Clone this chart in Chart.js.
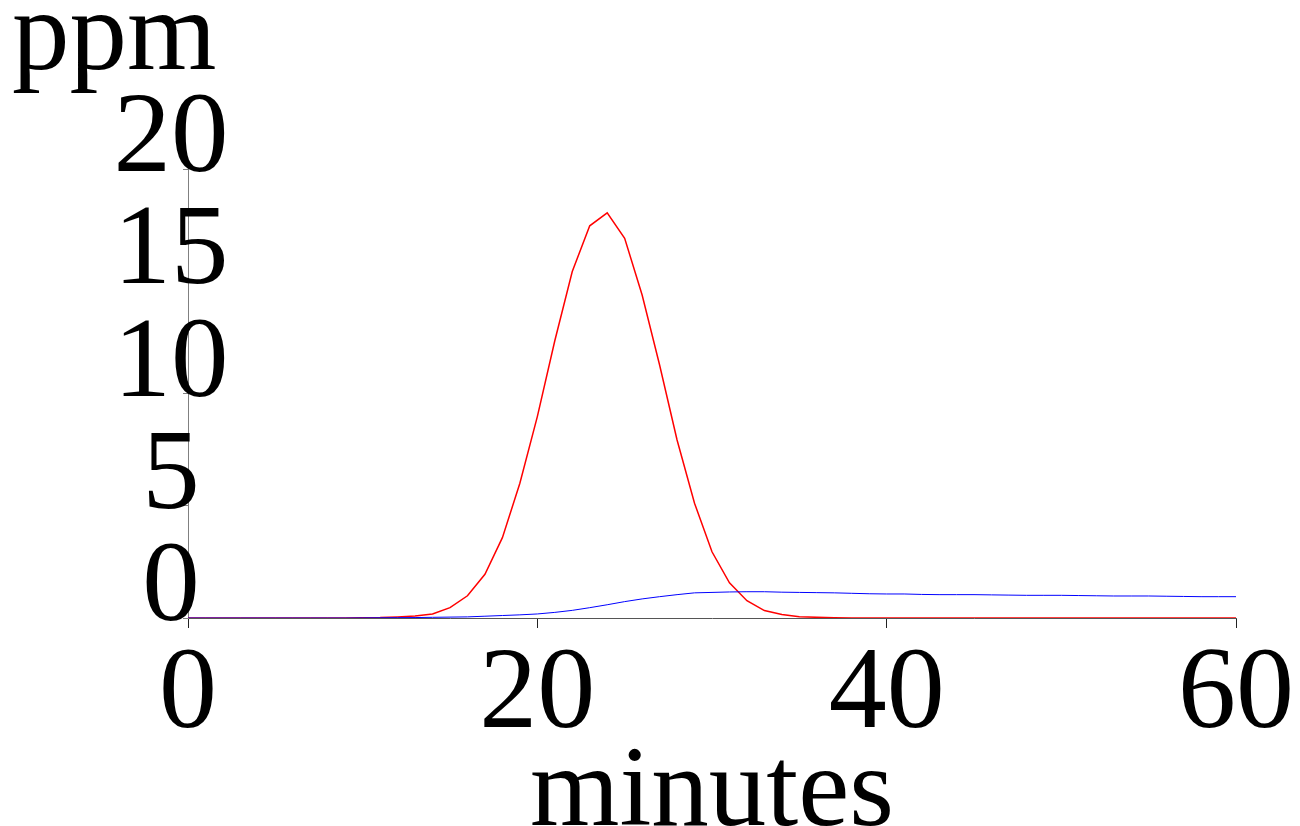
<!DOCTYPE html>
<html>
<head>
<meta charset="utf-8">
<script src="https://cdn.jsdelivr.net/npm/chart.js@4/dist/chart.umd.min.js"></script>
<style>
  html, body { margin: 0; padding: 0; background: #ffffff; }
  #wrap { width: 1300px; height: 826px; }
</style>
</head>
<body>
<div id="wrap"><canvas id="c" width="1300" height="826"></canvas></div>
<script>
// ---- data ----
const minutes = [0,1,2,3,4,5,6,7,8,9,10,11,12,13,14,15,16,17,18,19,20,21,22,23,24,25,26,27,28,29,30,
                 31,32,33,34,35,36,37,38,39,40,41,42,43,44,45,46,47,48,49,50,51,52,53,54,55,56,57,58,59,60];
const redSeries = [0,0,0,0,0,0,0,0,0,0,0.01,0.02,0.05,0.09,0.18,0.46,0.99,1.95,3.58,6.0,8.97,
                   12.35,15.43,17.47,18.05,16.91,14.39,11.27,7.93,5.11,2.95,
                   1.57,0.77,0.33,0.16,0.06,0.03,0.01,0,0,0,0,0,0,0,0,0,0,0,0,0,0,0,0,0,0,0,0,0,0,0];
const blueSeries = [0,0,0,0,0,0,0,0,0,0,0.005,0.01,0.015,0.02,0.03,0.04,0.05,0.08,0.11,0.14,0.18,
                    0.25,0.34,0.46,0.59,0.73,0.85,0.95,1.04,1.12,1.14,
                    1.16,1.17,1.17,1.15,1.14,1.13,1.12,1.10,1.08,1.07,1.07,1.05,1.04,1.04,1.04,
                    1.03,1.02,1.01,1.01,1.01,1.00,0.99,0.98,0.98,0.98,0.97,0.96,0.95,0.95,0.95];
const xTicks = [0, 20, 40, 60];
const yTicks = [0, 5, 10, 15, 20];
const xTitle = 'minutes';
const yTitle = 'ppm';

const FONT = '"Liberation Serif", "Times New Roman", serif';

const toPoints = (ys) => minutes.map((m, i) => ({ x: m, y: ys[i] }));

new Chart(document.getElementById('c'), {
  type: 'line',
  data: {
    datasets: [
      { label: 'blue', data: toPoints(blueSeries), borderColor: '#0000ff', borderWidth: 1,
        pointRadius: 0, tension: 0, fill: false },
      { label: 'red', data: toPoints(redSeries), borderColor: '#ff0000', borderWidth: 1.5,
        pointRadius: 0, tension: 0, fill: false }
    ]
  },
  options: {
    responsive: false,
    devicePixelRatio: 1,
    animation: false,
    layout: { padding: { left: 12, top: 0, right: 64, bottom: 0 } },
    plugins: {
      legend: { display: false },
      tooltip: { enabled: false },
      title: {
        display: true,
        text: yTitle,
        align: 'start',
        color: '#000',
        font: { family: FONT, size: 115, weight: 'normal', lineHeight: 0.5 },
        padding: { top: 10, bottom: 101.5 }
      }
    },
    scales: {
      x: {
        type: 'linear',
        min: xTicks[0], max: xTicks[xTicks.length - 1],
        afterBuildTicks: (s) => { s.ticks = xTicks.map(v => ({ value: v })); },
        afterFit: (s) => { s.height = 208; },
        border: { display: true, color: '#555', width: 1 },
        grid: { display: true, drawOnChartArea: false, drawTicks: true, tickLength: 10, color: '#222' },
        ticks: { autoSkip: false, maxRotation: 0, color: '#000', padding: -1,
                 font: { family: FONT, size: 116 } },
        title: { display: true, text: xTitle, color: '#000',
                 font: { family: FONT, size: 115, lineHeight: 0.55 }, padding: 0 }
      },
      y: {
        type: 'linear',
        min: yTicks[0], max: yTicks[yTicks.length - 1],
        afterBuildTicks: (s) => { s.ticks = yTicks.map(v => ({ value: v })); },
        afterFit: (s) => { s.width = 176; },
        afterUpdate: (s) => { s._computeLabelArea = () => undefined; },
        border: { display: true, color: '#808080', width: 1 },
        grid: { display: true, drawOnChartArea: false, drawTicks: true, tickLength: 5, color: '#808080' },
        ticks: { autoSkip: false, color: '#000', crossAlign: 'center', padding: -45.5,
                 labelOffset: -28, font: { family: FONT, size: 115 } }
      }
    }
  }
});
</script>
</body>
</html>
